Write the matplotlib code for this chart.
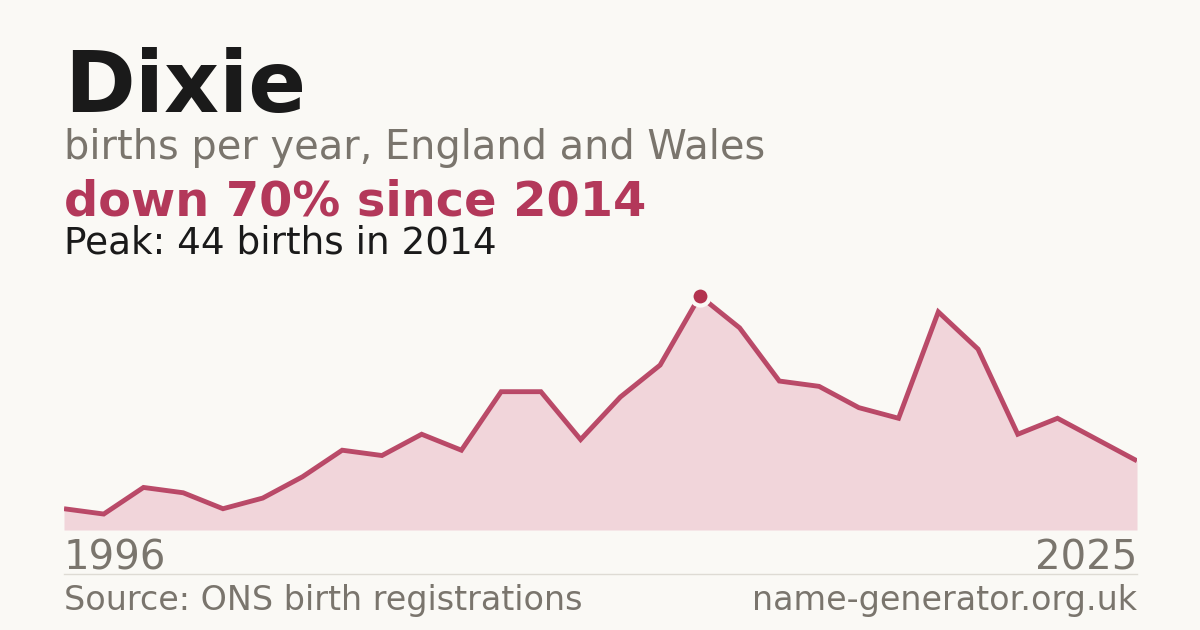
import matplotlib
matplotlib.use("Agg")
import matplotlib.pyplot as plt
from matplotlib.lines import Line2D

# ---- data ----
name = "Dixie"
first_year_label = "1996"
last_year_label = "2025"
births = [4, 3, 8, 7, 4, 6, 10, 15, 14, 18, 15, 26, 26, 17, 25, 31,
          44, 38, 28, 27, 23, 21, 41, 34, 18, 21, 17, 13]
peak_value = 44
peak_year = 2014
change_pct = 70

# ---- style ----
BG = "#faf9f5"
DARK = "#1a1a1a"
GREY = "#7a756d"
RED = "#b3385a"
FILL = "#f1d5da"
W, H = 1200, 630
DPI = 100

plt.rcParams['font.family'] = ['DejaVu Sans']
fig = plt.figure(figsize=(W / DPI, H / DPI), dpi=DPI, facecolor=BG)

def fx(px):
    return px / W

def fy(py):
    return 1 - py / H

# axes
left, right, bottom, top = 64, 1137, 530, 272
ax = fig.add_axes([fx(left), fy(bottom), fx(right - left), (bottom - top) / H])
ax.set_facecolor(BG)
ax.patch.set_alpha(0)
xs = list(range(len(births)))
ax.fill_between(xs, births, 0, color=FILL, linewidth=0)
ax.plot(xs, births, color=RED, linewidth=3.5, alpha=0.9, solid_joinstyle='miter',
        solid_capstyle='butt')
pi = births.index(peak_value)
ax.plot([xs[pi]], [births[pi]], marker='o', markersize=13, color="#b3334f",
        markeredgecolor=BG, markeredgewidth=3, zorder=5)
ax.set_xlim(0, len(births) - 1)
ax.set_ylim(0, (bottom - top) / 5.32)
ax.axis('off')

# texts
fig.text(fx(64), fy(112), name, fontsize=61.5, fontweight='bold', color=DARK, va='baseline')
fig.text(fx(64), fy(159), "births per year, England and Wales", fontsize=28.7, color=GREY, va='baseline')
fig.text(fx(64), fy(215), f"down {change_pct}% since {peak_year}", fontsize=34.5, fontweight='bold',
         color="#b3385a", va='baseline')
fig.text(fx(64), fy(254), f"Peak: {peak_value} births in {peak_year}", fontsize=26.9, color=DARK, va='baseline')
fig.text(fx(64), fy(569), first_year_label, fontsize=29, color=GREY, va='baseline')
fig.text(fx(1137), fy(569), last_year_label, fontsize=29, color=GREY, va='baseline', ha='right')
fig.add_artist(Line2D([fx(64), fx(1137)], [fy(574), fy(574)], color="#dedbd4", linewidth=1))
fig.text(fx(64), fy(610), "Source: ONS birth registrations", fontsize=24, color=GREY, va='baseline')
fig.text(fx(1137), fy(610), "name-generator.org.uk", fontsize=24, color=GREY, va='baseline', ha='right')

fig.savefig("out.png", dpi=DPI, facecolor=BG)
